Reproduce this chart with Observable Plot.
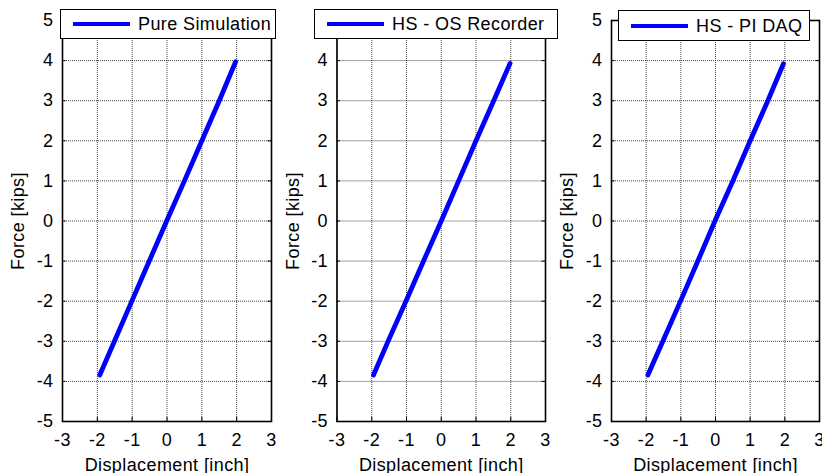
<!DOCTYPE html>
<html>
<head>
<meta charset="utf-8">
<script src="https://cdn.jsdelivr.net/npm/d3@7"></script>
<script src="https://cdn.jsdelivr.net/npm/@observablehq/plot@0.6"></script>
<style>
  html, body { margin: 0; padding: 0; background: #fff; }
  #wrap { position: relative; width: 822px; height: 473px; overflow: hidden; background: #fff; }
  .panel { position: absolute; top: 0; }
  .legend { position: absolute; box-sizing: border-box; border: 1px solid #000; background: #fff;
            font-family: "Liberation Sans", Arial, sans-serif; font-size: 18px; letter-spacing: 0.4px; color: #000; }
  .legend .sw { position: absolute; top: 50%; height: 4px; margin-top: -2px; background: #0000ff; }
  .legend .tx { position: absolute; top: 50%; transform: translateY(-50%); white-space: nowrap; line-height: 1; }
</style>
</head>
<body>
<div id="wrap"></div>
<script>
// ---- data ----
const seriesNames = ["Pure Simulation", "HS - OS Recorder", "HS - PI DAQ"];
const dispPure   = [-1.93, -1.50, -1.00, -0.50, 0.00, 0.50, 1.00, 1.50, 1.97];
const forcePure  = [-3.84, -2.98, -1.98, -0.98, 0.02, 1.00, 2.00, 3.00, 3.97];
const dispOS     = [-1.95, -1.50, -1.00, -0.50, 0.00, 0.50, 1.00, 1.50, 1.98];
const forceOS    = [-3.84, -2.94, -1.97, -0.98, 0.00, 1.00, 2.00, 2.98, 3.93];
const dispPI     = [-1.95, -1.50, -1.00, -0.50, 0.00, 0.50, 1.00, 1.50, 1.96];
const forcePI    = [-3.84, -2.96, -1.98, -0.98, 0.03, 1.00, 2.00, 2.98, 3.92];
const xTicks = [-3, -2, -1, 0, 1, 2, 3];
const yTicks = [-5, -4, -3, -2, -1, 0, 1, 2, 3, 4, 5];
const xLabel = "Displacement [inch]";
const yLabel = "Force [kips]";

// ---- layout ----
const panels = [
  {disp: dispPure, force: forcePure, name: seriesNames[0], left: 0,   width: 275, ml: 62,   mr: 4,
   legend: {left: 60,  top: 9,  width: 216, height: 30}},
  {disp: dispOS,   force: forceOS,   name: seriesNames[1], left: 275, width: 275, ml: 61.5, mr: 5,
   legend: {left: 314, top: 9,  width: 244, height: 30}},
  {disp: dispPI,   force: forcePI,   name: seriesNames[2], left: 550, width: 272, ml: 61,   mr: 3,
   legend: {left: 618, top: 10, width: 192, height: 31}}
];

const wrap = document.getElementById("wrap");
const font = "'Liberation Sans', Arial, sans-serif";
const gridStyle = {stroke: "#000", strokeOpacity: 0.75, strokeDasharray: "1,1", strokeWidth: 1};

for (const p of panels) {
  const pts = p.disp.map((d, i) => ({x: d, y: p.force[i]}));
  const chart = Plot.plot({
    width: p.width,
    height: 473,
    marginLeft: p.ml,
    marginRight: p.mr,
    marginTop: 20,
    marginBottom: 52,
    x: {domain: [-3, 3]},
    y: {domain: [-5, 5]},
    style: {fontFamily: font, fontSize: "18px", color: "#000", background: "transparent", overflow: "visible", letterSpacing: "0.4px"},
    marks: [
      Plot.gridX(xTicks, gridStyle),
      Plot.gridY(yTicks, gridStyle),
      Plot.ruleX(xTicks, {x: d => d, y1: -5, y2: -4.9, stroke: "#000"}),
      Plot.ruleX(xTicks, {x: d => d, y1: 4.9, y2: 5, stroke: "#000"}),
      Plot.ruleY(yTicks, {y: d => d, x1: -3, x2: -2.9, stroke: "#000"}),
      Plot.ruleY(yTicks, {y: d => d, x1: 2.9, x2: 3, stroke: "#000"}),
      Plot.line(pts, {x: "x", y: "y", stroke: "#0000ff", strokeWidth: 4.8, strokeLinecap: "round"}),
      Plot.frame({stroke: "#000", strokeWidth: 1.6}),
      Plot.axisX(xTicks, {anchor: "bottom", tickSize: 0, tickPadding: 12, tickFormat: d => String(d), fontSize: 18,
        label: xLabel, labelAnchor: "center", labelOffset: 49, labelArrow: "none"}),
      Plot.axisY(yTicks, {anchor: "left", tickSize: 0, tickPadding: 9, tickFormat: d => String(d), fontSize: 18,
        label: yLabel, labelAnchor: "center", labelOffset: 51, labelArrow: "none"})
    ]
  });
  const div = document.createElement("div");
  div.className = "panel";
  div.style.left = p.left + "px";
  div.appendChild(chart);
  wrap.appendChild(div);

  const lg = document.createElement("div");
  lg.className = "legend";
  Object.assign(lg.style, {left: p.legend.left + "px", top: p.legend.top + "px",
    width: p.legend.width + "px", height: p.legend.height + "px"});
  const sw = document.createElement("div");
  sw.className = "sw";
  Object.assign(sw.style, {left: "12px", width: "57px"});
  const tx = document.createElement("div");
  tx.className = "tx";
  tx.style.left = "77px";
  tx.textContent = p.name;
  lg.appendChild(sw);
  lg.appendChild(tx);
  wrap.appendChild(lg);
}
</script>
</body>
</html>
